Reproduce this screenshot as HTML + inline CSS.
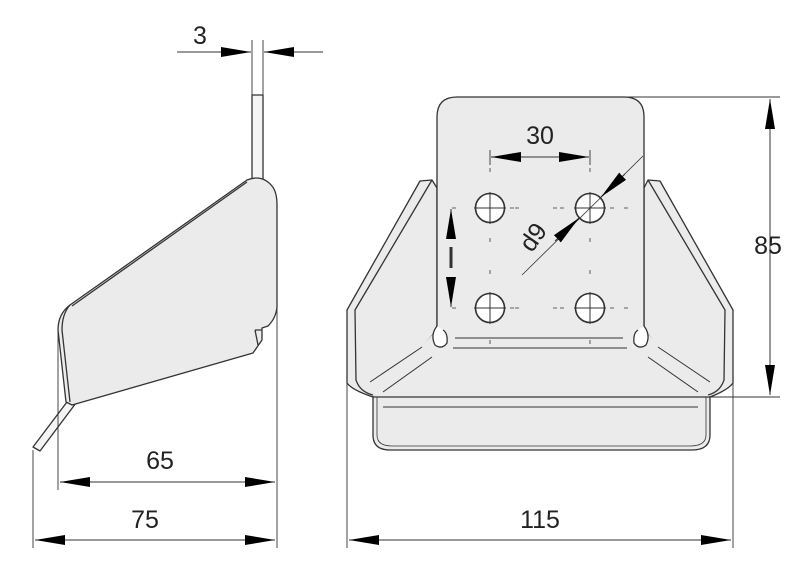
<!DOCTYPE html>
<html><head><style>html,body{margin:0;padding:0;background:#fff}svg{display:block}</style></head>
<body>
<svg width="800" height="587" viewBox="0 0 800 587" xmlns="http://www.w3.org/2000/svg" font-family="Liberation Sans, sans-serif">
<defs>
<marker id="a" viewBox="0 0 10 10" refX="10" refY="5" markerWidth="10" markerHeight="10" markerUnits="userSpaceOnUse" orient="auto-start-reverse"><path d="M0,0 L0,0 L10,5 L0,10 Z" fill="#000" transform="scale(1)"/></marker>
<marker id="b" viewBox="0 0 30 10" refX="30" refY="5" markerWidth="30" markerHeight="10" markerUnits="userSpaceOnUse" orient="auto-start-reverse"><path d="M0,0 L30,5 L0,10 Z" fill="#000"/></marker>
</defs>
<g stroke="#333" stroke-width="1.3" fill="#ebebeb" stroke-linejoin="round">
<!-- side view -->
<rect x="252" y="95" width="11" height="90" fill="#f4f4f4"/>
<path d="M70,398 L33,447 L40,451 L76,403 Z" fill="#f4f4f4"/>
<path d="M247,180 Q262,174 272,186 Q277,192 277,205 L277,307 Q276,318 268,326 L262,328 L262,340 L253,353 L72,405 L66,402 L58,330 Q58,314 70,305 Z"/>
<path d="M70,305 Q62,314 62,330 L70,402" fill="none"/>
<path d="M247,182 L72,306" fill="none"/>
<path d="M255,330 L262,330 M255,330 L258,345" fill="none"/>
<!-- front view wings -->
<path d="M420,181 L432,180 L437,188 L437,330 L383,392 L373,397 Q352,390 347,383 L347,310 Z"/>
<path d="M432,180 L355,310 L356,380 Q360,392 373,395" fill="none"/>
<path d="M660,181 L648,180 L644,188 L644,330 L698,392 L710,397 Q728,390 733,383 L733,310 Z"/>
<path d="M648,180 L725,310 L724,380 Q720,392 708,395" fill="none"/>
<!-- seat base -->
<path d="M437,330 L644,330 L710,397 L373,397 Z" stroke="none"/>
<path d="M373,397 L710,397 L710,435 Q710,450 692,450 L390,450 Q373,450 373,435 Z"/>
<path d="M377,397 L377,435 Q377,446 392,446 L690,446 Q706,446 706,435 L706,397" fill="none" stroke-width="0.8"/>
<!-- plate -->
<path d="M437,330 L437,117 Q437,97 457,97 L624,97 Q644,97 644,117 L644,330"/>
<path d="M437,326 Q430,335 435,345 Q442,350 447,343 Q448,333 443,330" fill="#fff"/>
<path d="M644,326 Q651,335 646,345 Q639,350 634,343 Q633,333 638,330" fill="#fff"/>
<g fill="none" stroke-width="1">
<line x1="455" y1="338" x2="623" y2="338"/>
<line x1="453" y1="348" x2="627" y2="348"/>
<line x1="383" y1="397" x2="698" y2="397"/>
<line x1="383" y1="407" x2="698" y2="407"/>
<line x1="422" y1="347" x2="370" y2="382"/>
<line x1="432" y1="357" x2="383" y2="392"/>
<line x1="658" y1="347" x2="710" y2="382"/>
<line x1="648" y1="357" x2="698" y2="392"/>
</g>
<g fill="#fff" stroke-width="1.6">
<circle cx="490" cy="208" r="14.5"/><circle cx="590" cy="208" r="14.5"/>
<circle cx="490" cy="308" r="14.5"/><circle cx="590" cy="308" r="14.5"/>
</g>
</g>
<g stroke="#333" stroke-width="1" fill="none">
<path d="M474,208h32M490,192v32M574,208h32M590,192v32M474,308h32M490,292v32M590,292v32M574,308h32"/>
<path d="M452,208h4M510,208h4M515,208h4M553,208h4M560,208h4M610,208h4M624,208h4M452,308h4M510,308h4M515,308h4M553,308h4M560,308h4M610,308h4M624,308h4" stroke-width="0.8"/>
<path d="M490,168v4M590,168v4M490,238v4M590,238v4M490,270v4M590,270v4M490,340v4M590,340v4" stroke-width="0.8"/>
<!-- dims -->
<g stroke-width="0.9">
<line x1="177" y1="52" x2="222" y2="52"/><line x1="293" y1="52" x2="323" y2="52"/>
<line x1="252" y1="40" x2="252" y2="95"/><line x1="263" y1="40" x2="263" y2="95"/>
<line x1="33" y1="450" x2="33" y2="548"/><line x1="58" y1="330" x2="58" y2="490"/><line x1="277" y1="205" x2="277" y2="548"/>
<line x1="347" y1="383" x2="347" y2="548"/><line x1="733" y1="383" x2="733" y2="548"/>
<line x1="624" y1="97" x2="780" y2="97"/><line x1="710" y1="397" x2="780" y2="397"/>
<line x1="490" y1="150" x2="490" y2="165"/><line x1="590" y1="150" x2="590" y2="165"/>
</g>
<line x1="60" y1="482" x2="275" y2="482" marker-start="url(#b)" marker-end="url(#b)"/>
<line x1="35" y1="540" x2="275" y2="540" marker-start="url(#b)" marker-end="url(#b)"/>
<line x1="349" y1="540" x2="731" y2="540" marker-start="url(#b)" marker-end="url(#b)"/>
<line x1="770" y1="99" x2="770" y2="395" marker-start="url(#b)" marker-end="url(#b)"/>
<line x1="491" y1="157" x2="589" y2="157" marker-start="url(#b)" marker-end="url(#b)"/>
<line x1="451" y1="209" x2="451" y2="238" marker-start="url(#b)"/>
<line x1="451" y1="277" x2="451" y2="307" marker-end="url(#b)"/>
<line x1="451" y1="247" x2="451" y2="268" stroke-width="3"/>
<line x1="222" y1="52" x2="251" y2="52" marker-end="url(#b)"/>
<line x1="293" y1="52" x2="264" y2="52" marker-end="url(#b)"/>
<line x1="522" y1="275" x2="643" y2="156" stroke-width="0.8"/>
<line x1="555" y1="241" x2="579" y2="218" marker-end="url(#b)"/>
<line x1="625" y1="174" x2="601" y2="197" marker-end="url(#b)"/>
</g>
<g fill="#222" font-size="25" text-anchor="middle">
<text x="200" y="44">3</text>
<text x="160" y="469">65</text>
<text x="145" y="528">75</text>
<text x="540" y="528">115</text>
<text x="768" y="254">85</text>
<text x="540" y="144">30</text>
<text x="0" y="0" transform="translate(540,242) rotate(-55)">d9</text>
</g>
</svg>
</body></html>
